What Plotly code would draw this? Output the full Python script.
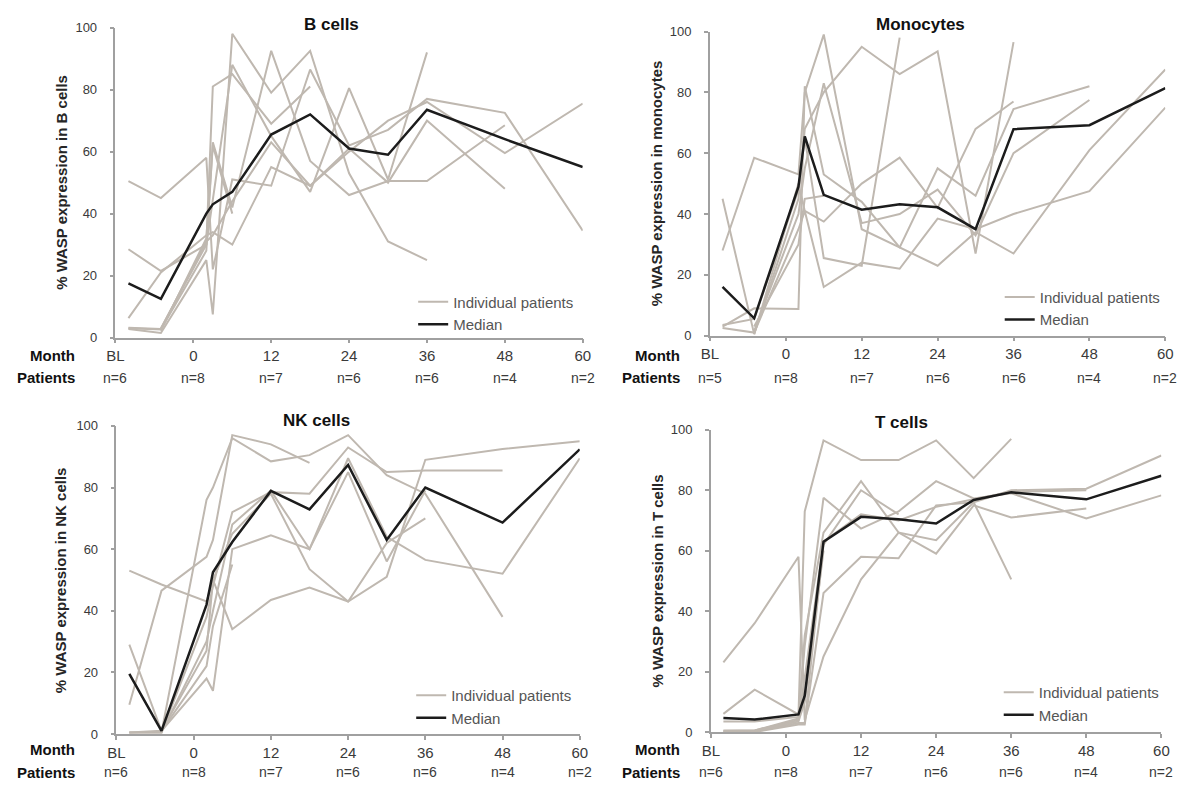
import plotly.graph_objects as go

# ---------------- data ----------------
MONTHS = [-10, -5, 2, 3, 6, 12, 18, 24, 30, 36, 48, 60]
TICK_VALS = [-12, 0, 12, 24, 36, 48, 60]
TICK_TEXT = ["BL", "0", "12", "24", "36", "48", "60"]

b_cells_patients = [
    [50.5, 45, 58, 22, 51, 49, 86.5, 62, 67, 77, 72.5, 34.5],
    [28.5, 21.5, 30, 81, 85, 69, 81, None, None, None, None, None],
    [6.3, 21, 33, 34, 30, 55, 49, 60, 70, 76, 59.5, 75.5],
    [3, 2.6, 28, 63, 42, 92.5, 57, 46, 50.5, 50.5, 68.5, None],
    [2.8, 1.5, 25, 7.5, 98, 79, 92.5, 53, 31, 25, None, None],
    [None, 3, 30, None, 88, 65, 47, 80.5, 51, 92, None, None],
    [3.2, 2.8, 31, 33, 44, 63, 49, 61, 50, 70, 48, None],
    [None, 2.2, 32, 62, 40, None, None, None, None, None, None, None],
]
b_cells_median = [17.5, 12.5, 40, 43, 47, 65.5, 72, 61, 59, 73.5, 64, 55]
b_cells_n = ["n=6", "n=8", "n=7", "n=6", "n=6", "n=4", "n=2"]

mono_patients = [
    [45, 0.5, 50, 41, 37.5, 50, 58.5, 42, 68, 77, None, None],
    [28, 58.5, 53, 80, 99, 35, 29, 55, 46, 74.5, 82, None],
    [3, 9, 8.8, 82, 53, 44, 29, 23, 34, 27, 61, 87.5],
    [2.5, 1, 35, 41, 16, 24, 22, 38.5, 35, 40, 47.5, 75],
    [3.5, 5.5, 48, 65, 25.5, 23, 98, None, None, None, None, None],
    [None, 0.5, 45, 68, 80, 95, 86, 93.5, 27, 96.5, None, None],
    [None, 1.5, 40, 55, 83, 37, 40, 48, 33, 60, 77.5, None],
    [None, 3, 30, 45, 46, None, None, None, None, None, None, None],
]
mono_median = [16, 5.7, 49, 65.5, 46.3, 41.4, 43.2, 42.2, 35, 67.9, 69.2, 81.4]
mono_n = ["n=5", "n=8", "n=7", "n=6", "n=6", "n=4", "n=2"]

nk_patients = [
    [53, 48.5, 43, 50, 34, 43.5, 47.5, 43, 62, 70, None, None],
    [29, 1, 18, 14, 60, 64.5, 60, 89.5, 64, 56.5, 52, 89.5],
    [9.5, 46.5, 57.5, 63, 97, 94, 88, None, None, None, None, None],
    [0.5, 0.5, 76, 80, 96, 88.5, 90.5, 97, 84, 78, 38, None],
    [0.5, 0.5, 38, 48, 72, 78.5, 78, 93, 85, 85.5, 85.5, None],
    [0.5, 1, 27, 50, 65, 78, 53.5, 43, 51, 89, 92.5, 95],
    [None, 0.5, 30, 40, 68, 79, 60, 85, 56, 79, None, None],
    [None, 1, 22, 35, 55, None, None, None, None, None, None, None],
]
nk_median = [19.5, 1, 42, 52.5, 62.3, 78.9, 72.9, 87.3, 63, 80, 68.6, 92.4]
nk_n = ["n=6", "n=8", "n=7", "n=6", "n=6", "n=4", "n=2"]

t_patients = [
    [23, 36, 58, 4, 25, 50.5, 66, 63.5, 76, 80, 80.5, 91.5],
    [6, 14, 5.8, 73, 96.5, 90, 90, 96.5, 84, 97, None, None],
    [3.5, 3.5, 5, 28.5, 77.5, 67.3, 73, 83, 77.3, 79, 70.7, 78.3],
    [0.5, 0.5, 4, 32, 66, 83, 66, 59, 75, 71, 74, None],
    [0, 0, 2.5, 2.5, 46, 58, 57.5, 75, 76, 50.5, None, None],
    [None, 0.2, 3, 3, 62, 80, 72, None, None, None, None, None],
    [0.3, 0.5, 4.5, 18, 63, 72, 70, 74.5, 77, 79.5, 80, None],
    [None, 0.3, 3.5, 10, 60, None, None, None, None, None, None, None],
]
t_median = [4.6, 4.1, 5.8, 12, 63, 71.2, 70.4, 69, 76.8, 79.3, 77, 84.8]
t_n = ["n=6", "n=8", "n=7", "n=6", "n=6", "n=4", "n=2"]

# ---------------- layout helpers ----------------
W, H = 1196, 791
def px_x(v):
    return v / W
def px_y(v):
    return 1 - v / H

panels = [
    dict(title="B cells", ylabel="% WASP expression in B cells",
         patients=b_cells_patients, median=b_cells_median, n=b_cells_n,
         x0=108, x1=582, ytop=21, ybot=337, title_x=327, title_y=18,
         ylab_x=53, month_x=69, n_y=378, month_y=355,
         leg_x=452, leg_y=301),
    dict(title="Monocytes", ylabel="% WASP expression in monocytes",
         patients=mono_patients, median=mono_median, n=mono_n,
         x0=711, x1=1173, ytop=25, ybot=335, title_x=925, title_y=18,
         ylab_x=657, month_x=683, n_y=378, month_y=355,
         leg_x=1047, leg_y=296),
    dict(title="NK cells", ylabel="% WASP expression in NK cells",
         patients=nk_patients, median=nk_median, n=nk_n,
         x0=109, x1=579, ytop=427, ybot=741, title_x=312, title_y=422,
         ylab_x=53, month_x=69, n_y=780, month_y=757,
         leg_x=450, leg_y=702),
    dict(title="T cells", ylabel="% WASP expression in T cells",
         patients=t_patients, median=t_median, n=t_n,
         x0=712, x1=1169, ytop=431, ybot=739, title_x=905, title_y=424,
         ylab_x=658, month_x=683, n_y=780, month_y=757,
         leg_x=1046, leg_y=699),
]

FONT = "Arial, Liberation Sans, sans-serif"
GRAY_LINE = "#bfb8b0"
MEDIAN_COLOR = "#1c1c1c"
AXIS_COLOR = "#a0a0a0"

fig = go.Figure()
annotations = []
layout_axes = {}

for i, p in enumerate(panels):
    k = "" if i == 0 else str(i + 1)
    xa, ya = "x" + k, "y" + k
    leg = "legend" + k
    for j, series in enumerate(p["patients"]):
        fig.add_trace(go.Scatter(
            x=MONTHS, y=series, mode="lines", xaxis=xa, yaxis=ya,
            line=dict(color=GRAY_LINE, width=2), connectgaps=True,
            name="Individual patients", legendgroup="ind" + k,
            showlegend=(j == 0), legend=leg, hoverinfo="skip"))
    fig.add_trace(go.Scatter(
        x=MONTHS, y=p["median"], mode="lines", xaxis=xa, yaxis=ya,
        line=dict(color=MEDIAN_COLOR, width=2.5), connectgaps=True,
        name="Median", legendgroup="med" + k, showlegend=True, legend=leg))

    layout_axes["xaxis" + k] = dict(
        domain=[px_x(p["x0"]), px_x(p["x1"])], anchor=ya, range=[-12, 60],
        tickvals=TICK_VALS, ticktext=TICK_TEXT, ticks="outside", ticklen=4,
        tickwidth=1.5, tickcolor=AXIS_COLOR, showline=True, linecolor=AXIS_COLOR,
        linewidth=1.5, showgrid=False, zeroline=False, ticklabelstandoff=0,
        tickfont=dict(family=FONT, size=15, color="#3a3a3a"))
    layout_axes["yaxis" + k] = dict(
        domain=[px_y(p["ybot"]), px_y(p["ytop"])], anchor=xa, range=[0, 100],
        tickvals=[0, 20, 40, 60, 80, 100], ticks="outside", ticklen=4,
        tickwidth=1.5, tickcolor=AXIS_COLOR, showline=True, linecolor=AXIS_COLOR,
        linewidth=1.5, showgrid=False, zeroline=False, ticklabelstandoff=10,
        tickfont=dict(family=FONT, size=13, color="#3a3a3a"))
    layout_axes[leg] = dict(
        x=px_x(p["leg_x"] - 42), y=px_y(p["leg_y"] - 17), xanchor="left",
        yanchor="top", bgcolor="rgba(0,0,0,0)", itemwidth=30,
        font=dict(family=FONT, size=15, color="#555555"), tracegroupgap=0)

    annotations.append(dict(
        text="<b>%s</b>" % p["title"], x=px_x(p["title_x"]), y=px_y(p["title_y"]),
        xref="paper", yref="paper", showarrow=False, xanchor="center", yanchor="middle",
        font=dict(family=FONT, size=17, color="#111111")))
    annotations.append(dict(
        text="<b>%s</b>" % p["ylabel"], x=px_x(p["ylab_x"]),
        y=px_y((p["ytop"] + p["ybot"]) / 2), xref="paper", yref="paper",
        showarrow=False, textangle=-90, xanchor="center", yanchor="middle",
        font=dict(family=FONT, size=15, color="#262626")))
    annotations.append(dict(
        text="<b>Month</b>", x=px_x(p["month_x"]), y=px_y(p["month_y"]),
        xref="paper", yref="paper", showarrow=False, xanchor="right", yanchor="middle",
        font=dict(family=FONT, size=15, color="#111111")))
    annotations.append(dict(
        text="<b>Patients</b>", x=px_x(p["month_x"]), y=px_y(p["n_y"]),
        xref="paper", yref="paper", showarrow=False, xanchor="right", yanchor="middle",
        font=dict(family=FONT, size=15, color="#111111")))
    for tv, nt in zip(TICK_VALS, p["n"]):
        annotations.append(dict(
            text=nt, x=tv, xref=xa, y=px_y(p["n_y"]), yref="paper",
            showarrow=False, xanchor="center", yanchor="middle",
            font=dict(family=FONT, size=14, color="#3a3a3a")))

fig.update_layout(
    width=W, height=H, margin=dict(l=0, r=0, t=0, b=0),
    paper_bgcolor="white", plot_bgcolor="white",
    font=dict(family=FONT), annotations=annotations, showlegend=True,
    **layout_axes)

fig.write_html("out.html")
